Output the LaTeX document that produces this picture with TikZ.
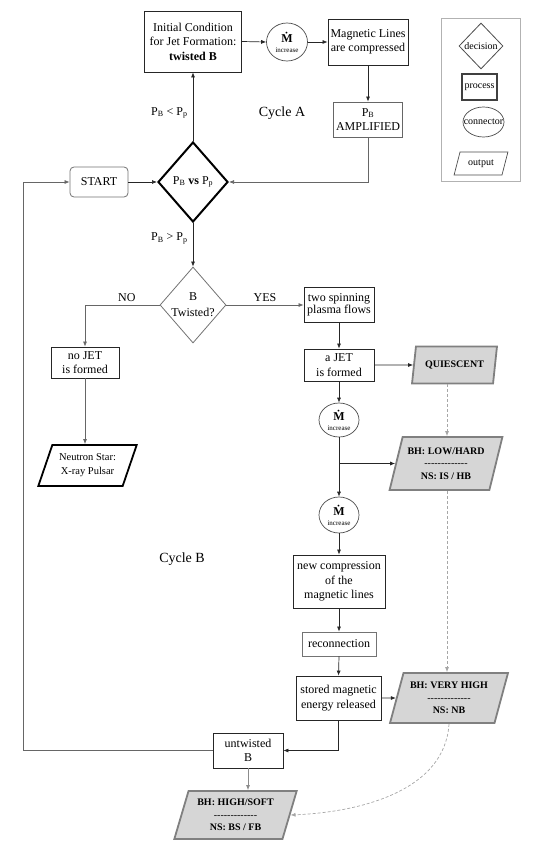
\documentclass[tikz,border=0pt]{standalone}
\usepackage{fontspec}
\setmainfont{Liberation Serif}
\usetikzlibrary{shapes.geometric,arrows.meta}
\newcommand{\sepline}{\mbox{-}\mbox{-}\mbox{-}\mbox{-}\mbox{-}\mbox{-}\mbox{-}\mbox{-}\mbox{-}\mbox{-}\mbox{-}\mbox{-}\mbox{-}}
\newcommand{\mdotrate}{\textbf{\.{M}}\\[-1pt]{\fontsize{7}{8}\selectfont increase}}

\begin{document}
\begin{tikzpicture}[x=1pt,y=-1pt]
    \tikzstyle{every node}+=[inner sep=0pt]
    \tikzstyle{proc}=[draw=black!85, line width=0.8pt, rectangle, fill=white, align=center, font=\fontsize{12}{14.5}\selectfont]
    \tikzstyle{choice}=[draw=black!55, line width=0.8pt, diamond, fill=white, align=center, font=\fontsize{12}{16}\selectfont]
    \tikzstyle{mdot}=[draw=black!70, line width=0.7pt, ellipse, fill=white, align=center, font=\fontsize{12}{11}\selectfont]
    \tikzstyle{outp}=[draw=black!50, line width=1.8pt, fill=black!16, trapezium, trapezium left angle=70, trapezium right angle=110, trapezium stretches=true, align=center, font=\fontsize{10}{12.5}\selectfont\bfseries]
    \tikzstyle{conn}=[draw=black!85, line width=0.7pt, -{Latex[length=5pt,width=4pt]}]
    \tikzstyle{trail}=[draw=black!35, line width=0.7pt, dash pattern=on 3pt off 2pt, -{Latex[length=5pt,width=4pt]}]
    \tikzstyle{edgetag}=[font=\fontsize{12}{14}\selectfont]
    \useasboundingbox (0,0) rectangle (536,853);
    \draw (193,41.5) node [proc, minimum width=97pt, minimum height=61pt] (init) {Initial Condition\\for Jet Formation:\\\textbf{twisted B}};
    \draw (287,42) node [mdot, minimum width=41pt, minimum height=38pt] (md1) {\mdotrate};
    \draw (368,42) node [proc, minimum width=80pt, minimum height=46pt] (magn) {Magnetic Lines\\are compressed};
    \draw (368,119.5) node [proc, draw=black!60, minimum width=69pt, minimum height=35pt] (ampl) {P\textsubscript{B}\\AMPLIFIED};
    \draw (99,182) node [proc, draw=black!55, rounded corners=4pt, minimum width=58pt, minimum height=30pt] (start) {START};
    \draw (193,182) node [choice, draw=black, line width=2pt, minimum width=70pt, minimum height=80pt] (main) {P\textsubscript{B} \textbf{vs} P\textsubscript{p}};
    \draw (193,305) node [choice, inner sep=-6pt, minimum width=66pt, minimum height=76pt] (twist) {B\\Twisted?};
    \draw (85,362.5) node [proc, minimum width=68pt, minimum height=31pt] (nojet) {no JET\\is formed};
    \draw (87.5,465.5) node [outp, draw=black, fill=white, trapezium left angle=64, trapezium right angle=116, minimum width=99pt, minimum height=41pt, font=\fontsize{10.5}{14}\selectfont] (nstar) {Neutron Star:\\X-ray Pulsar};
    \draw (339,305) node [proc, minimum width=70pt, minimum height=35pt, font=\fontsize{12}{12}\selectfont] (spin) {two spinning\\plasma flows};
    \draw (339,365) node [proc, minimum width=70pt, minimum height=32pt] (ajet) {a JET\\is formed};
    \draw (454.5,365) node [outp, minimum width=85pt, minimum height=37pt] (quies) {QUIESCENT};
    \draw (339,420) node [mdot, minimum width=40pt, minimum height=34pt] (md2) {\mdotrate};
    \draw (446,463.5) node [outp, minimum width=114pt, minimum height=53pt] (low) {BH: LOW/HARD\\\textmd{\sepline}\\NS: IS / HB};
    \draw (339,515) node [mdot, minimum width=40pt, minimum height=36pt] (md3) {\mdotrate};
    \draw (339,581.5) node [proc, minimum width=92pt, minimum height=53pt] (comp) {new compression\\of the\\magnetic lines};
    \draw (339,644) node [proc, draw=black!55, minimum width=74pt, minimum height=24pt] (recon) {reconnection};
    \draw (338.5,698) node [proc, minimum width=85pt, minimum height=44pt] (stored) {stored magnetic\\energy released};
    \draw (449,698) node [outp, minimum width=118pt, minimum height=50pt] (vhigh) {BH: VERY HIGH\\\textmd{\sepline}\\NS: NB};
    \draw (248,750.5) node [proc, minimum width=70pt, minimum height=35pt] (untw) {untwisted\\B};
    \draw (235.5,815) node [outp, minimum width=123pt, minimum height=48pt] (soft) {BH: HIGH/SOFT\\\textmd{\sepline}\\NS: BS / FB};
    \draw (282,113) node [font=\fontsize{14}{16}\selectfont] (cycA) {Cycle A};
    \draw (182,559) node [font=\fontsize{14}{16}\selectfont] (cycB) {Cycle B};
    \draw [black!30, line width=0.6pt] (441,18) rectangle (520,181);
    \draw (481,46) node [choice, draw=black!70, inner sep=-2pt, minimum width=44pt, minimum height=46pt, font=\fontsize{10}{12}\selectfont] (kdec) {decision};
    \draw (479.5,87) node [proc, draw=black!75, line width=1.5pt, minimum width=35pt, minimum height=26pt, font=\fontsize{10}{12}\selectfont] (kproc) {process};
    \draw (483.5,122) node [mdot, inner sep=-6pt, minimum width=41pt, minimum height=30pt, font=\fontsize{10}{12}\selectfont] (kconn) {connector};
    \draw (481,163.5) node [outp, draw=black!70, line width=0.7pt, fill=white, trapezium left angle=65, trapezium right angle=115, minimum width=54pt, minimum height=23pt, font=\fontsize{10}{12}\selectfont] (kout) {output};
    \coordinate (split) at (md2.south |- low.west);
    \coordinate (drop) at (447,0);
    \coordinate (rim) at (23,0);
    \draw [conn] (init.east) -- (md1.west);
    \draw [conn] (md1.east) -- (magn.west);
    \draw [conn] (magn.south) -- (ampl.north);
    \draw [conn, draw=black!60] (ampl.south) |- (main.east);
    \draw [conn] (start.east) -- (main.west);
    \draw [conn] (main.north) -- node [edgetag, left=5pt, pos=0.41] (lt) {P\textsubscript{B} < P\textsubscript{p}} (init.south);
    \draw [conn] (main.south) -- node [edgetag, left=5pt, pos=0.36] (gt) {P\textsubscript{B} > P\textsubscript{p}} (twist.north);
    \draw [conn, draw=black!60] (twist.west) -| node [edgetag, above=3pt, pos=0.22] (no) {NO} (nojet.north);
    \draw [conn, draw=black!60] (nojet.south) -- (nojet.south |- nstar.north);
    \draw [conn, draw=black!60] (twist.east) -- node [edgetag, above=3pt] (yes) {YES} (spin.west);
    \draw [conn] (spin.south) -- (ajet.north);
    \draw [conn] (ajet.east) -- (quies.west);
    \draw [conn] (ajet.south) -- (md2.north);
    \draw [conn] (md2.south) -- (md3.north);
    \draw [conn] (split) -- (low.west);
    \draw [trail] (drop |- quies.south) -- (drop |- low.north);
    \draw [trail] (drop |- low.south) -- (drop |- vhigh.north);
    \draw [conn] (md3.south) -- (comp.north);
    \draw [conn] (comp.south) -- (recon.north);
    \draw [conn] (recon.south) -- (stored.north);
    \draw [conn] (stored.east) -- (vhigh.west);
    \draw [conn] (stored.south) |- (untw.east);
    \draw [conn, draw=black!60] (untw.west) -- (untw.west -| rim) |- (start.west);
    \draw [conn, draw=black!45] (untw.south) -- (untw.south |- soft.north);
    \draw [trail] (vhigh.center |- vhigh.south) .. controls +(-4,66) and +(72,-3) .. (soft.east);
\end{tikzpicture}
\end{document}
